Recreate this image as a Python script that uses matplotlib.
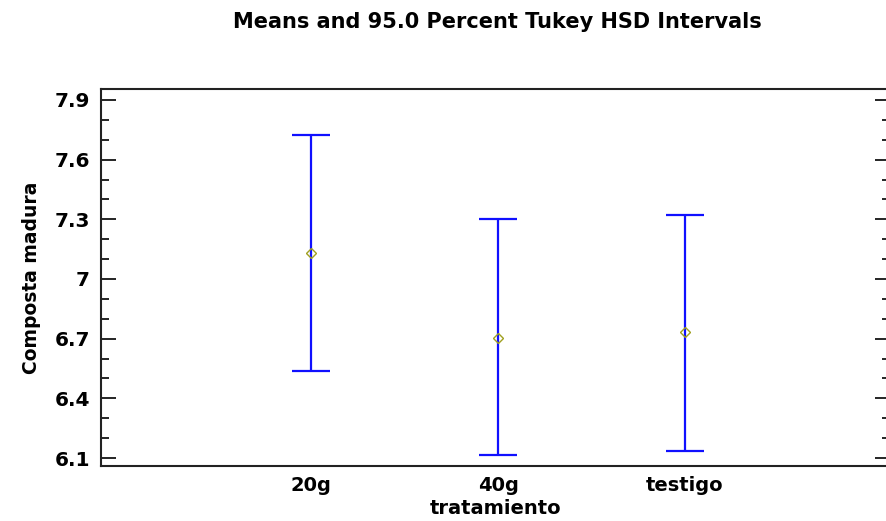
import matplotlib
matplotlib.use("Agg")
import matplotlib.pyplot as plt
from matplotlib.ticker import MultipleLocator

# Tukey HSD intervals
groups = ["20g", "40g", "testigo"]
means = [7.130, 6.703, 6.733]
lower = [6.537, 6.115, 6.135]
upper = [7.724, 7.302, 7.321]
yticks = [6.1, 6.4, 6.7, 7.0, 7.3, 7.6, 7.9]
ytick_labels = ["6.1", "6.4", "6.7", "7", "7.3", "7.6", "7.9"]

plt.rcParams['font.family'] = ['DejaVu Sans']

fig = plt.figure(figsize=(8.87, 5.21), dpi=100)
ax = fig.add_axes([0.1139, 0.1056, 0.8895, 0.7236])

x = list(range(1, len(groups) + 1))
err = [[m - lo for m, lo in zip(means, lower)],
       [hi - m for m, hi in zip(means, upper)]]
ax.errorbar(x, means, yerr=err, fmt='none', ecolor='#1010ff',
            elinewidth=1.6, capsize=14, capthick=1.6)
ax.plot(x, means, linestyle='none', marker='D', markersize=5,
        markerfacecolor='none', markeredgecolor='#a0a020', markeredgewidth=1)

ax.set_xlim(-0.123, 4.096)
ax.set_ylim(6.06, 7.955)
ax.set_xticks(x)
ax.set_xticklabels(groups, fontsize=14, fontweight='bold')
ax.set_yticks(yticks)
ax.set_yticklabels(ytick_labels, fontsize=14.5, fontweight='bold')
ax.yaxis.set_minor_locator(MultipleLocator(0.1))
ax.tick_params(axis='y', which='major', direction='in', length=11,
               width=1.2, right=True, pad=8)
ax.tick_params(axis='y', which='minor', direction='in', length=6,
               width=1.2, right=True)
ax.tick_params(axis='x', length=0, pad=7)

for s in ax.spines.values():
    s.set_linewidth(1.5)
    s.set_color('#222222')

ax.set_xlabel("tratamiento", fontsize=14, fontweight='bold', labelpad=3)
ax.set_ylabel("Composta madura", fontsize=13.5, fontweight='bold', labelpad=10)
fig.text(0.561, 0.957, "Means and 95.0 Percent Tukey HSD Intervals",
         ha='center', va='center', fontsize=15, fontweight='bold')

fig.savefig("out.png", dpi=100)
